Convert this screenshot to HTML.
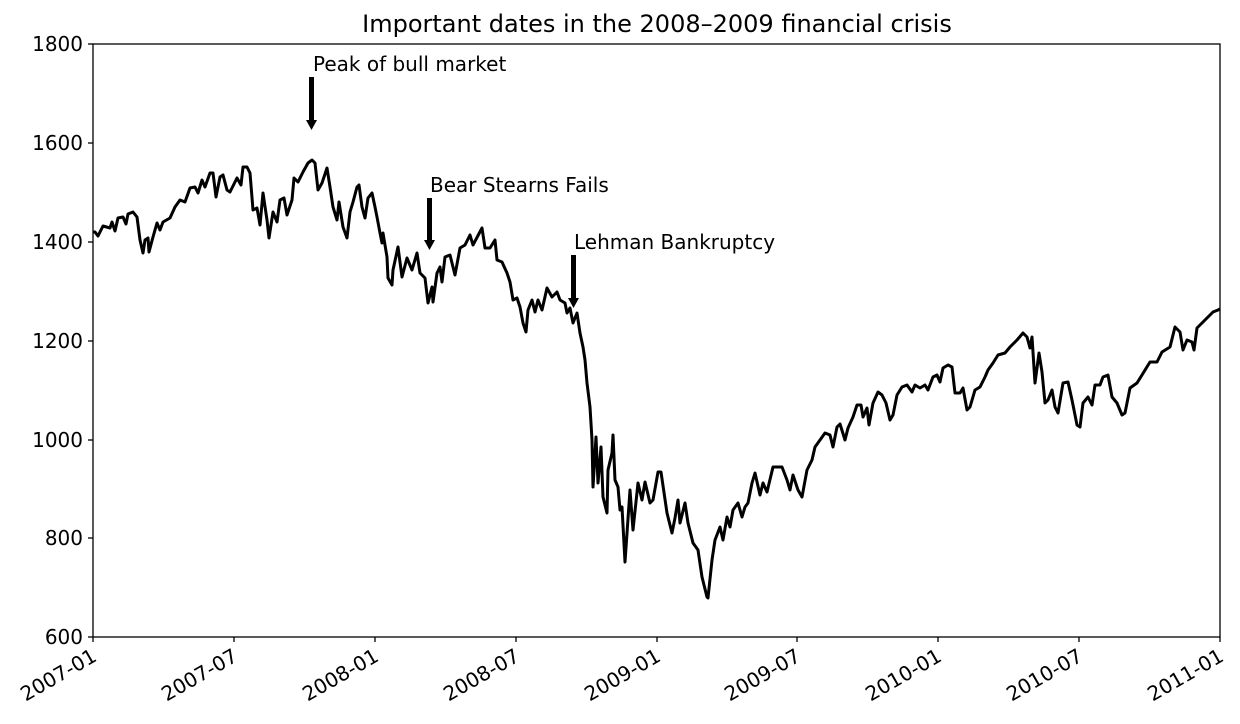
<!DOCTYPE html>
<html><head><meta charset="utf-8"><style>
body{margin:0;background:#fff}
svg{display:block}
text{font-family:"DejaVu Sans","Liberation Sans",sans-serif;fill:#000}
</style></head><body>
<svg width="1240" height="724" viewBox="0 0 1240 724">
<text x="657" y="32" font-size="24" text-anchor="middle">Important dates in the 2008–2009 financial crisis</text>
<polyline fill="none" stroke="#000" stroke-width="3" stroke-linejoin="round" points="
93,232 95,232 98,236 103,226 110,228 112,222 115,231 118,218 123,217 126,224 128,214 133,212 137,217 140,240 143,253 145,240 148,238 149,252 153,237 157,223 160,230 163,222 170,218 175,207 180,200 185,202 190,188 195,187 198,193 202,180 205,187 210,173 213,173 216,197 220,177 223,175 227,190 230,192 237,178 241,185 243,167 247,167 250,173 253,210 257,208 260,225 263,193 267,220 269,238 273,212 277,222 280,200 284,198 287,215 292,200 294,178 298,182 303,172 308,163 312,160 315,163 318,190 322,183 327,168 330,187 333,207 337,220 339,202 343,227 347,238 350,212 353,202 357,187 359,185 362,207 365,218 368,198 372,193 375,207 377,217 380,233 382,243 383,233 387,257 388,278 392,285 393,270 398,247 402,277 407,258 412,270 417,253 420,273 425,278 428,303 432,287 433,302 437,273 440,267 442,282 445,257 450,255 455,275 460,248 465,245 470,235 473,245 482,228 485,248 490,248 495,240 497,260 502,262 507,273 510,282 513,300 517,298 520,307 523,323 526,332 528,310 532,300 535,312 538,300 542,310 547,288 552,297 557,292 560,300 565,303 567,313 570,308 573,323 577,313 580,333 583,347 585,360 587,383 590,407 592,440 593,487 596,437 598,483 601,447 603,497 607,513 608,470 612,453 613,435 615,480 618,487 620,510 622,507 625,562 630,490 633,530 638,483 642,500 645,482 650,503 653,500 658,472 661,472 667,513 672,533 675,518 678,500 680,523 685,503 688,523 693,543 698,550 702,577 707,597 708,598 712,560 715,540 720,527 723,540 727,517 730,527 733,510 738,503 742,517 745,507 748,503 752,483 755,473 760,495 763,483 767,492 773,467 782,467 787,480 790,490 793,475 798,490 802,497 807,470 812,460 815,447 820,440 825,433 830,435 833,447 837,427 840,424 845,440 848,428 853,417 857,405 861,405 863,417 867,408 869,425 873,403 878,392 882,395 886,403 890,420 893,415 897,395 902,387 907,385 912,392 915,385 920,388 925,385 928,390 933,377 937,375 940,382 943,368 948,365 952,367 955,393 960,393 963,388 967,410 970,407 975,390 980,387 985,377 988,370 993,363 998,355 1005,353 1010,347 1017,340 1023,333 1027,337 1030,348 1032,337 1035,383 1039,353 1042,372 1045,403 1048,400 1052,390 1055,407 1058,413 1063,383 1068,382 1072,400 1077,425 1080,427 1083,403 1088,397 1092,405 1095,385 1100,385 1103,377 1108,375 1112,397 1117,403 1122,415 1125,413 1130,388 1137,383 1142,375 1150,362 1157,362 1162,352 1170,347 1175,327 1180,332 1183,350 1187,340 1192,342 1194,350 1197,328 1203,322 1208,317 1213,312 1218,310 1220,309"/>
<rect x="93" y="44" width="1127" height="593" fill="none" stroke="#000" stroke-width="1.3"/>
<g stroke="#000" stroke-width="1.3">
<line x1="88" y1="44" x2="93" y2="44"/><line x1="88" y1="143" x2="93" y2="143"/><line x1="88" y1="242" x2="93" y2="242"/><line x1="88" y1="341" x2="93" y2="341"/><line x1="88" y1="440" x2="93" y2="440"/><line x1="88" y1="538" x2="93" y2="538"/><line x1="88" y1="637" x2="93" y2="637"/>
<line x1="93" y1="637" x2="93" y2="642"/><line x1="234" y1="637" x2="234" y2="642"/><line x1="375" y1="637" x2="375" y2="642"/><line x1="516" y1="637" x2="516" y2="642"/><line x1="657" y1="637" x2="657" y2="642"/><line x1="797" y1="637" x2="797" y2="642"/><line x1="938" y1="637" x2="938" y2="642"/><line x1="1079" y1="637" x2="1079" y2="642"/><line x1="1220" y1="637" x2="1220" y2="642"/>
</g>
<g font-size="20" text-anchor="end">
<text x="83" y="51">1800</text><text x="83" y="150">1600</text><text x="83" y="249">1400</text><text x="83" y="348">1200</text><text x="83" y="447">1000</text><text x="83" y="545">800</text><text x="83" y="644">600</text>
</g>
<g font-size="20" text-anchor="end">
<text transform="translate(98,660) rotate(-30)">2007-01</text>
<text transform="translate(239,660) rotate(-30)">2007-07</text>
<text transform="translate(380,660) rotate(-30)">2008-01</text>
<text transform="translate(521,660) rotate(-30)">2008-07</text>
<text transform="translate(662,660) rotate(-30)">2009-01</text>
<text transform="translate(802,660) rotate(-30)">2009-07</text>
<text transform="translate(943,660) rotate(-30)">2010-01</text>
<text transform="translate(1084,660) rotate(-30)">2010-07</text>
<text transform="translate(1225,660) rotate(-30)">2011-01</text>
</g>
<g font-size="20">
<text x="313" y="71">Peak of bull market</text>
<text x="430" y="192">Bear Stearns Fails</text>
<text x="574" y="249">Lehman Bankruptcy</text>
</g>
<g fill="#000">
<rect x="309" y="77" width="5" height="44"/><polygon points="306,120 317,120 311.5,130"/>
<rect x="427" y="198" width="5" height="43"/><polygon points="424,240 435,240 429.5,250"/>
<rect x="571" y="255" width="5" height="44"/><polygon points="568,298 579,298 573.5,308"/>
</g>
</svg>
</body></html>
